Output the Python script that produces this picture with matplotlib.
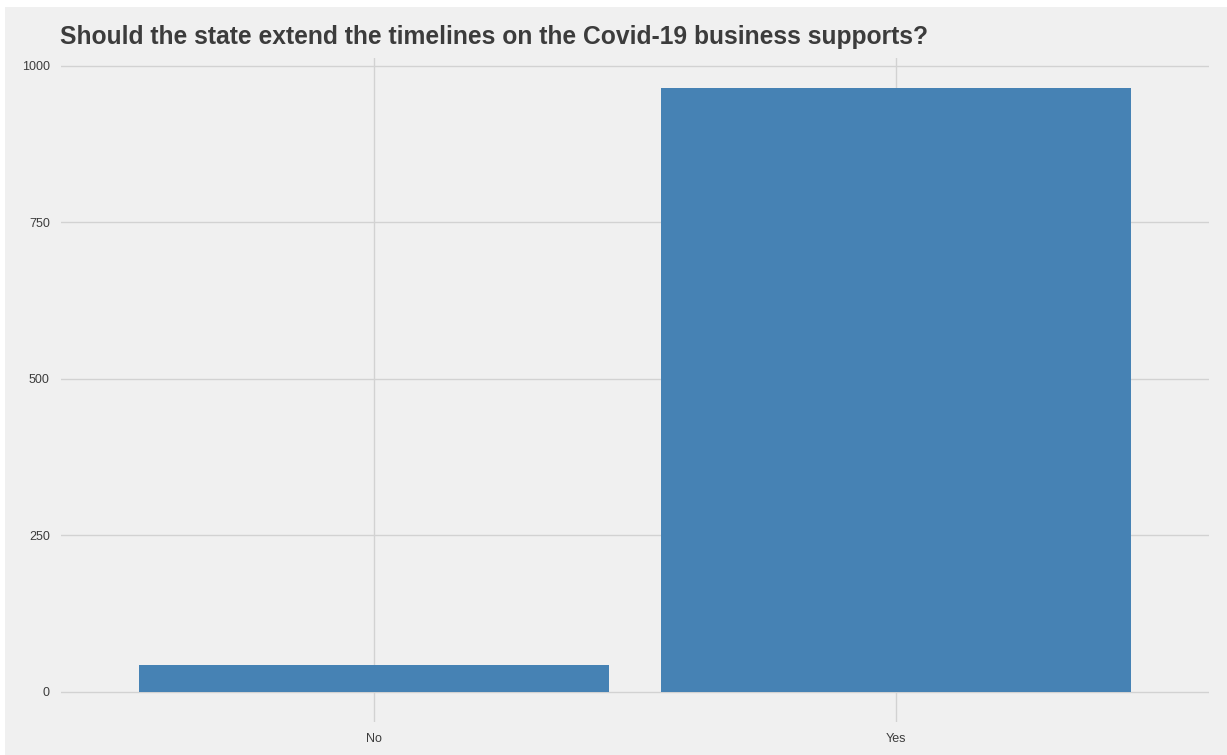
import matplotlib.pyplot as plt
import matplotlib.patches as mpatches

answers = ["No", "Yes"]
counts = [43, 964]
yticks = [0, 250, 500, 750, 1000]

W, H = 1227, 755
bg = "#F0F0F0"
grid_col = "#D2D2D2"
text_col = "#3C3C3C"

fig = plt.figure(figsize=(W / 100, H / 100), dpi=100)
fig.patch.set_facecolor("white")
# grey panel, leaves a thin white strip on the top and left
fig.add_artist(mpatches.Rectangle((5 / W, 0), 1, 1 - 7 / H, transform=fig.transFigure,
                                  facecolor=bg, edgecolor="none", zorder=0))

left, right, top, bottom = 61, 1209, 58, 722
ax = fig.add_axes([left / W, 1 - bottom / H, (right - left) / W, (bottom - top) / H])
ax.set_facecolor(bg)

x = list(range(1, len(answers) + 1))
ax.bar(x, counts, width=0.9, color="#4682B4", zorder=2)

ax.set_xlim(0.4, len(answers) + 0.6)
ax.set_ylim(-0.05 * max(counts), max(counts) * 1.05)
ax.set_xticks(x)
ax.set_xticklabels(answers)
ax.set_yticks(yticks)

ax.grid(True, color=grid_col, linewidth=1.0, zorder=0)
ax.set_axisbelow(True)
for s in ax.spines.values():
    s.set_visible(False)
ax.tick_params(length=0, labelsize=9, colors=text_col, pad=8)
for lab in ax.get_xticklabels() + ax.get_yticklabels():
    lab.set_fontfamily("Liberation Sans")

fig.text(60 / W, 1 - 37 / H, "Should the state extend the timelines on the Covid-19 business supports?",
         fontsize=17.7, fontweight="bold", color=text_col, family="Liberation Sans",
         ha="left", va="center")

fig.savefig("out.png", dpi=100, facecolor=fig.get_facecolor())
